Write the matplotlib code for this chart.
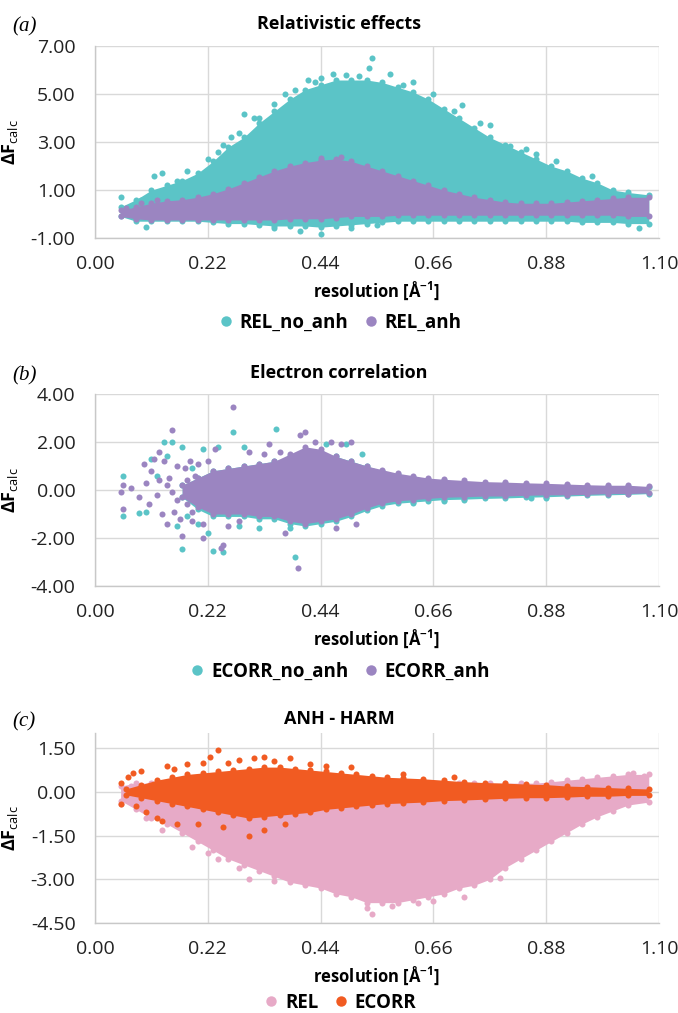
import matplotlib
matplotlib.use('Agg')
import matplotlib.pyplot as plt
from matplotlib.lines import Line2D
import numpy as np

plt.rcParams['font.family'] = ['Open Sans', 'DejaVu Sans']
plt.rcParams['axes.unicode_minus'] = False
plt.rcParams['mathtext.fontset'] = 'custom'
plt.rcParams['mathtext.rm'] = 'Open Sans'
plt.rcParams['mathtext.bf'] = 'Open Sans:bold'

# colours
TEAL = '#5BC4C7'
PURPLE = '#9B85C1'
PINK = '#E7AAC7'
ORANGE = '#F15B22'

X_TICKS = [0.00, 0.22, 0.44, 0.66, 0.88, 1.10]

# ---- (a) relativistic effects: cloud envelopes ----
A_X = [0.05, 0.08, 0.11, 0.14, 0.17, 0.20, 0.23, 0.26, 0.29, 0.32, 0.35, 0.38,
       0.41, 0.44, 0.47, 0.50, 0.53, 0.56, 0.59, 0.62, 0.65, 0.68, 0.71, 0.74,
       0.77, 0.80, 0.83, 0.86, 0.89, 0.92, 0.95, 0.98, 1.01, 1.04, 1.08]
REL_NO_ANH_HI = [0.3, 0.6, 1.0, 1.2, 1.4, 1.7, 2.2, 2.8, 3.2, 3.8, 4.3, 4.8,
                 5.2, 5.4, 5.6, 5.6, 5.6, 5.5, 5.3, 5.1, 4.8, 4.4, 4.0, 3.6,
                 3.2, 2.9, 2.6, 2.3, 2.0, 1.8, 1.5, 1.3, 1.0, 0.9, 0.8]
REL_NO_ANH_LO = [-0.1, -0.3, -0.3, -0.3, -0.3, -0.3, -0.35, -0.4, -0.4, -0.45, -0.5, -0.5,
                 -0.5, -0.55, -0.5, -0.45, -0.4, -0.35, -0.3, -0.3, -0.3, -0.3, -0.3, -0.3,
                 -0.3, -0.3, -0.3, -0.3, -0.3, -0.3, -0.35, -0.35, -0.35, -0.4, -0.4]
REL_ANH_HI = [0.15, 0.3, 0.45, 0.55, 0.6, 0.7, 0.85, 1.05, 1.3, 1.55, 1.8, 2.0,
              2.15, 2.25, 2.3, 2.2, 2.0, 1.8, 1.6, 1.4, 1.2, 1.0, 0.85, 0.7,
              0.6, 0.5, 0.45, 0.45, 0.45, 0.5, 0.55, 0.6, 0.65, 0.7, 0.7]
REL_ANH_LO = [-0.1, -0.2, -0.25, -0.25, -0.25, -0.25, -0.25, -0.25, -0.25, -0.25, -0.25, -0.2,
              -0.2, -0.2, -0.15, -0.1, -0.1, -0.1, -0.05, -0.05, -0.05, -0.05, -0.05, -0.05,
              -0.05, -0.05, -0.05, -0.05, -0.05, -0.05, -0.05, -0.05, -0.05, -0.1, -0.1]
REL_NO_ANH_OUT_X = [0.05, 0.09, 0.115, 0.13, 0.16, 0.20, 0.22, 0.25, 0.265, 0.29, 0.32, 0.35,
                    0.39, 0.415, 0.44, 0.465, 0.49, 0.515, 0.535, 0.54, 0.575, 0.62, 0.66,
                    0.715, 0.77, 0.81, 0.86, 0.90, 0.97, 0.44, 0.40, 0.10, 0.35, 0.50, 1.06, 0.55,
                    0.18, 0.24, 0.28, 0.31, 0.37, 0.43, 0.60, 0.70, 0.75, 0.84]
REL_NO_ANH_OUT_Y = [0.7, 0.6, 1.6, 1.7, 1.4, 1.6, 2.3, 2.9, 3.2, 4.2, 4.0, 4.6,
                    5.2, 5.6, 5.7, 5.85, 5.8, 5.75, 6.1, 6.5, 5.85, 5.5, 5.0,
                    4.55, 3.7, 2.85, 2.5, 2.2, 1.6, -0.85, -0.7, -0.55, -0.6, -0.6, -0.6, -0.45,
                    1.8, 2.6, 3.4, 4.0, 5.0, 5.5, 5.4, 4.3, 3.8, 2.7]
REL_ANH_OUT_X = [0.06, 0.09, 0.12, 0.44, 0.48]
REL_ANH_OUT_Y = [0.25, 0.45, 0.6, 2.35, 2.4]

# ---- (b) electron correlation ----
B_X = [0.17, 0.20, 0.23, 0.26, 0.29, 0.32, 0.35, 0.38, 0.41, 0.44, 0.47, 0.50, 0.53,
       0.56, 0.59, 0.62, 0.65, 0.68, 0.72, 0.76, 0.80, 0.84, 0.88, 0.92, 0.96,
       1.00, 1.04, 1.08]
ECORR_NO_ANH_HI = [0.2, 0.5, 0.8, 0.9, 1.0, 1.1, 1.2, 1.4, 1.6, 1.6, 1.4, 1.2, 1.0,
                   0.8, 0.65, 0.55, 0.45, 0.4, 0.35, 0.3, 0.28, 0.25, 0.22, 0.2, 0.18,
                   0.16, 0.15, 0.12]
ECORR_NO_ANH_LO = [-0.3, -0.8, -1.1, -1.1, -1.1, -1.2, -1.2, -1.4, -1.5, -1.4, -1.3, -1.1, -0.85,
                   -0.65, -0.55, -0.5, -0.45, -0.4, -0.38, -0.35, -0.33, -0.3, -0.28, -0.25, -0.22,
                   -0.2, -0.18, -0.15]
ECORR_ANH_HI = [0.2, 0.5, 0.8, 0.9, 1.0, 1.1, 1.2, 1.5, 1.8, 1.7, 1.4, 1.2, 1.0,
                0.85, 0.7, 0.6, 0.5, 0.45, 0.4, 0.35, 0.33, 0.3, 0.28, 0.25, 0.22,
                0.2, 0.2, 0.15]
ECORR_ANH_LO = [-0.3, -0.7, -1.0, -1.0, -1.0, -1.1, -1.1, -1.3, -1.4, -1.3, -1.2, -1.0, -0.75,
                -0.55, -0.45, -0.4, -0.35, -0.3, -0.28, -0.25, -0.25, -0.22, -0.2, -0.2, -0.18,
                -0.15, -0.15, -0.12]
ECORR_NO_ANH_OUT_X = [0.055, 0.055, 0.085, 0.10, 0.11, 0.12, 0.135, 0.14, 0.15, 0.16, 0.17, 0.17,
                      0.18, 0.19, 0.20, 0.21, 0.22, 0.23, 0.24, 0.25, 0.27, 0.29, 0.353, 0.39,
                      0.38, 0.45, 0.49, 0.52, 0.50, 0.62, 0.68, 0.72, 0.85, 0.88, 0.32, 0.28]
ECORR_NO_ANH_OUT_Y = [-1.1, 0.6, -0.95, -0.9, 1.3, 0.6, 2.0, 1.4, 2.0, -1.5, 1.8, -2.45,
                      -1.1, 0.9, -1.4, 1.7, -1.8, -2.55, 1.8, -2.6, 2.4, 1.8, 2.55, -2.8,
                      -1.6, 1.9, 1.9, 1.5, -1.0, -0.55, -0.45, -0.42, -0.35, -0.35, -1.6, -1.5]
ECORR_ANH_OUT_X = [0.05, 0.055, 0.055, 0.07, 0.085, 0.095, 0.10, 0.105, 0.11, 0.115, 0.12, 0.125,
                   0.13, 0.135, 0.14, 0.145, 0.15, 0.155, 0.16, 0.165, 0.17, 0.175, 0.18, 0.185,
                   0.19, 0.195, 0.21, 0.245, 0.27, 0.25, 0.30, 0.34, 0.37, 0.396, 0.40, 0.41,
                   0.43, 0.46, 0.48, 0.50, 0.47, 0.51, 0.235, 0.26,
                   0.14, 0.16, 0.18, 0.20, 0.22, 0.125, 0.15, 0.19, 0.21, 0.28, 0.33, 0.36]
ECORR_ANH_OUT_Y = [-0.1, 0.2, -0.8, 0.1, -0.3, 1.1, 0.3, -0.6, 0.8, 1.3, -0.2, 1.6,
                   -1.0, 1.2, -1.4, 0.5, 2.5, -0.9, 1.0, -1.2, -1.9, 0.9, -0.6, 1.2,
                   -1.3, 0.6, -2.0, -2.4, 3.45, -2.3, 1.6, 1.9, -1.8, -3.25, 2.3, 2.4,
                   2.0, 2.0, 1.9, 2.0, -1.6, -1.4, 1.7, -1.5,
                   0.2, -0.4, 0.4, 1.1, 1.2, 0.4, -0.1, -0.9, -1.4, -1.3, 1.5, 1.6]

# ---- (c) ANH - HARM ----
C_X = A_X
REL_HI = [0.2, 0.3, 0.3, 0.3, 0.3, 0.3, 0.3, 0.3, 0.3, 0.3, 0.3, 0.3,
          0.3, 0.3, 0.3, 0.3, 0.3, 0.3, 0.3, 0.3, 0.3, 0.3, 0.3, 0.3,
          0.3, 0.3, 0.3, 0.3, 0.35, 0.4, 0.45, 0.5, 0.55, 0.6, 0.6]
REL_LO = [-0.3, -0.6, -0.9, -1.1, -1.4, -1.7, -2.0, -2.3, -2.5, -2.7, -2.9, -3.1,
          -3.2, -3.3, -3.5, -3.6, -3.8, -3.8, -3.8, -3.7, -3.6, -3.5, -3.3, -3.2,
          -3.0, -2.6, -2.3, -2.0, -1.7, -1.4, -1.1, -0.85, -0.65, -0.45, -0.35]
ECORR_X = [0.06, 0.09, 0.12, 0.15, 0.18, 0.21, 0.24, 0.27, 0.30, 0.33, 0.36, 0.39, 0.42, 0.45,
           0.48, 0.51, 0.54, 0.57, 0.60, 0.64, 0.68, 0.72, 0.76, 0.80, 0.84, 0.88,
           0.92, 0.96, 1.00, 1.04, 1.08]
ECORR_HI = [0.1, 0.25, 0.4, 0.5, 0.6, 0.65, 0.7, 0.75, 0.8, 0.85, 0.85, 0.8, 0.75, 0.7,
            0.65, 0.6, 0.55, 0.5, 0.48, 0.45, 0.4, 0.35, 0.32, 0.3, 0.27, 0.25,
            0.2, 0.18, 0.15, 0.12, 0.1]
ECORR_LO = [-0.1, -0.2, -0.3, -0.4, -0.5, -0.6, -0.7, -0.8, -0.9, -0.85, -0.8, -0.75, -0.7, -0.6,
            -0.55, -0.5, -0.45, -0.4, -0.38, -0.35, -0.3, -0.28, -0.25, -0.22, -0.2, -0.2,
            -0.18, -0.15, -0.15, -0.12, -0.12]
REL_OUT_X = [0.05, 0.07, 0.10, 0.13, 0.19, 0.22, 0.24, 0.28, 0.30, 0.35, 0.54, 0.53,
             0.58, 0.63, 0.66, 0.72, 0.79, 1.05, 1.07]
REL_OUT_Y = [-0.4, 0.2, -0.9, -1.3, -1.9, -2.1, -2.3, -2.6, -3.0, -3.05, -4.2, -4.0,
             -3.9, -3.8, -3.75, -3.6, -2.95, 0.65, 0.55]
ECORR_OUT_X = [0.05, 0.05, 0.065, 0.075, 0.08, 0.09, 0.10, 0.11, 0.12, 0.13, 0.14, 0.155,
               0.16, 0.18, 0.20, 0.21, 0.225, 0.24, 0.25, 0.26, 0.28, 0.30, 0.31, 0.33,
               0.35, 0.38, 0.42, 0.45, 0.50, 0.33, 0.37, 0.60, 0.70]
ECORR_OUT_Y = [0.3, -0.4, 0.5, 0.65, -0.5, 0.7, -0.7, 0.2, -0.9, -1.0, 0.9, 0.8,
               -1.1, 0.95, -1.1, 1.0, 1.2, 1.45, -1.2, 1.0, 1.1, -1.5, 1.15, 1.2,
               1.05, 1.15, 0.95, 0.9, 0.85, -1.3, -1.1, 0.6, 0.5]

DOT = 19  # marker area, pt^2


def draw_cloud(ax, x, lo, hi, ox, oy, color):
    ax.fill_between(x, lo, hi, color=color, lw=0, zorder=2)
    ax.scatter(x, hi, s=DOT, color=color, lw=0, zorder=2)
    ax.scatter(x, lo, s=DOT, color=color, lw=0, zorder=2)
    ax.scatter(ox, oy, s=DOT, color=color, lw=0, zorder=2)


def style_axes(ax, ymin, ymax, yticks, top=None):
    ax.set_xlim(0, 1.10)
    ax.set_ylim(ymin, ymax if top is None else top)
    ax.set_xticks(X_TICKS)
    ax.set_yticks(yticks)
    ax.xaxis.set_major_formatter(matplotlib.ticker.FormatStrFormatter('%.2f'))
    ax.yaxis.set_major_formatter(matplotlib.ticker.FormatStrFormatter('%.2f'))
    ax.tick_params(length=0, labelsize=14, colors='#222222')
    ax.tick_params(axis='x', pad=12)
    ax.tick_params(axis='y', pad=14)
    ax.grid(True, color='#D9D9D9', lw=1.0, zorder=0)
    ax.set_axisbelow(True)
    for s in ['top', 'right']:
        ax.spines[s].set_visible(False)
    for s in ['left', 'bottom']:
        ax.spines[s].set_color('#C8C8C8')
        ax.spines[s].set_linewidth(1.0)
    ax.set_ylabel(r'$\mathbf{\Delta F}_{\mathrm{calc}}$', fontsize=13)
    ax.yaxis.set_label_coords(-0.133, 0.5)
    ax.set_xlabel(r'resolution [Å$^{\mathbf{-1}}$]', fontsize=12, fontweight='bold', labelpad=5)


fig = plt.figure(figsize=(6.78, 10.13), dpi=100)
fig.patch.set_facecolor('white')

# (a)
ax1 = fig.add_axes([0.1401, 0.7651, 0.8319, 0.1890])
draw_cloud(ax1, A_X, REL_NO_ANH_LO, REL_NO_ANH_HI, REL_NO_ANH_OUT_X, REL_NO_ANH_OUT_Y, TEAL)
draw_cloud(ax1, A_X, REL_ANH_LO, REL_ANH_HI, REL_ANH_OUT_X, REL_ANH_OUT_Y, PURPLE)
style_axes(ax1, -1, 7, [-1, 1, 3, 5, 7])

# (b)
ax2 = fig.add_axes([0.1401, 0.4215, 0.8319, 0.1895])
draw_cloud(ax2, B_X, ECORR_NO_ANH_LO, ECORR_NO_ANH_HI, ECORR_NO_ANH_OUT_X, ECORR_NO_ANH_OUT_Y, TEAL)
draw_cloud(ax2, B_X, ECORR_ANH_LO, ECORR_ANH_HI, ECORR_ANH_OUT_X, ECORR_ANH_OUT_Y, PURPLE)
style_axes(ax2, -4, 4, [-4, -2, 0, 2, 4])

# (c)
ax3 = fig.add_axes([0.1401, 0.0888, 0.8319, 0.1876])
draw_cloud(ax3, C_X, REL_LO, REL_HI, REL_OUT_X, REL_OUT_Y, PINK)
draw_cloud(ax3, ECORR_X, ECORR_LO, ECORR_HI, ECORR_OUT_X, ECORR_OUT_Y, ORANGE)
style_axes(ax3, -4.5, 1.5, [-4.5, -3.0, -1.5, 0.0, 1.5], top=2.02)

# titles, panel letters, legends
titles = ['Relativistic effects', 'Electron correlation', 'ANH - HARM']
title_y = [24, 373, 719]
letters = ['(a)', '(b)', '(c)']
legend_y = [323, 672, 1003]
legend_items = [[('REL_no_anh', TEAL), ('REL_anh', PURPLE)],
                [('ECORR_no_anh', TEAL), ('ECORR_anh', PURPLE)],
                [('REL', PINK), ('ECORR', ORANGE)]]
H = 1013.0
for t, ty, lt, ly, items in zip(titles, title_y, letters, legend_y, legend_items):
    fig.text(0.5, 1 - ty / H, t, ha='center', va='center', fontsize=13, fontweight='bold')
    fig.text(0.018, 1 - (ty + 3) / H, lt, ha='left', va='center', fontsize=15,
             family='Liberation Serif', style='italic')
    handles = [Line2D([], [], ls='none', marker='o', ms=7.5, color=c, mec='none') for _, c in items]
    leg = fig.legend(handles, [n for n, _ in items], loc='center', bbox_to_anchor=(0.5, 1 - ly / H),
                     ncol=2, frameon=False, handletextpad=0.25, columnspacing=0.7,
                     handlelength=1.0, prop={'weight': 'bold', 'size': 13.5})

fig.savefig('out.png', dpi=100, facecolor='white')
